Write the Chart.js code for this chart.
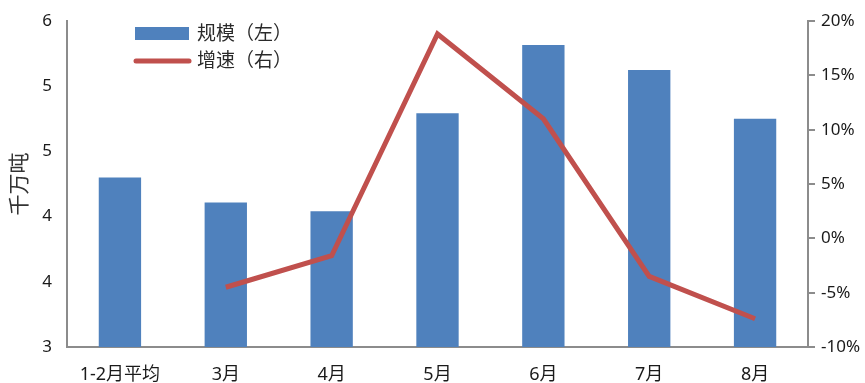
<!DOCTYPE html>
<html>
<head>
<meta charset="utf-8">
<script src="https://cdn.jsdelivr.net/npm/chart.js@4"></script>
<style>
  html, body { margin: 0; padding: 0; background: #fff; }
  #wrap { width: 865px; height: 383px; position: relative; }
</style>
</head>
<body>
<div id="wrap"><canvas id="chart"></canvas></div>
<script>
const categories = ['1-2月平均', '3月', '4月', '5月', '6月', '7月', '8月'];
const scaleValues = [4.56, 4.33, 4.25, 5.15, 5.78, 5.55, 5.10];   // 规模（左），千万吨
const growthValues = [null, -4.5, -1.6, 18.8, 11.0, -3.5, -7.4];  // 增速（右），%
const leftTicks = [3, 3.6, 4.2, 4.8, 5.4, 6];
const rightTicks = [-10, -5, 0, 5, 10, 15, 20];

const fontFamily = '"Noto Sans", "Noto Sans CJK SC", sans-serif';
const axisColor = '#8c8c8c';
const textColor = '#1a1a1a';

// legend + axis title drawn by hand (vertical legend inside the plot)
const extras = {
  id: 'extras',
  afterDraw(chart) {
    const ctx = chart.ctx;
    const area = chart.chartArea;
    ctx.save();
    ctx.fillStyle = '#4F81BD';
    ctx.fillRect(135, 27, 54, 13);
    ctx.strokeStyle = '#C0504D';
    ctx.lineWidth = 5;
    ctx.lineCap = 'round';
    ctx.beginPath();
    ctx.moveTo(136, 61);
    ctx.lineTo(189, 61);
    ctx.stroke();
    ctx.fillStyle = '#2a2a2a';
    ctx.font = '19px ' + fontFamily;
    ctx.textBaseline = 'middle';
    ctx.textAlign = 'left';
    ctx.fillText('规模（左）', 197, 35);
    ctx.fillText('增速（右）', 197, 62);
    ctx.translate(20, (area.top + area.bottom) / 2);
    ctx.rotate(-Math.PI / 2);
    ctx.textAlign = 'center';
    ctx.font = '21px ' + fontFamily;
    ctx.fillStyle = '#333';
    ctx.fillText('千万吨', 0, 0);
    ctx.restore();
  }
};

new Chart(document.getElementById('chart'), {
  data: {
    labels: categories,
    datasets: [
      {
        type: 'line',
        label: '增速（右）',
        data: growthValues,
        yAxisID: 'yRight',
        borderColor: '#C0504D',
        borderWidth: 5,
        pointRadius: 0,
        tension: 0,
        spanGaps: false,
        order: 0
      },
      {
        type: 'bar',
        label: '规模（左）',
        data: scaleValues,
        yAxisID: 'yLeft',
        backgroundColor: '#4F81BD',
        barPercentage: 0.4,
        categoryPercentage: 1,
        order: 1
      }
    ]
  },
  options: {
    responsive: true,
    maintainAspectRatio: false,
    animation: false,
    layout: { padding: { top: 21, left: 0, right: 0, bottom: 0 } },
    plugins: {
      legend: { display: false },
      tooltip: { enabled: false }
    },
    scales: {
      x: {
        grid: { display: false, drawTicks: false },
        border: { display: true, color: axisColor, width: 2 },
        ticks: { color: textColor, font: { family: fontFamily, size: 18 }, padding: 17, maxRotation: 0 },
        afterFit(scale) { scale.height = 36; }
      },
      yLeft: {
        position: 'left',
        min: 3,
        max: 6,
        afterBuildTicks(scale) { scale.ticks = leftTicks.map(v => ({ value: v })); },
        grid: { display: false, drawTicks: false },
        border: { display: true, color: axisColor, width: 2 },
        ticks: {
          color: textColor,
          font: { family: fontFamily, size: 17 },
          padding: 15,
          callback: v => Math.round(v)
        },
        afterFit(scale) {
          scale.width = 67;
          scale.paddingTop = 0;
          scale.paddingBottom = 0;
        }
      },
      yRight: {
        position: 'right',
        min: -10,
        max: 20,
        afterBuildTicks(scale) { scale.ticks = rightTicks.map(v => ({ value: v })); },
        grid: { drawOnChartArea: false, drawTicks: true, tickLength: 7, color: axisColor, lineWidth: 2 },
        border: { display: true, color: axisColor, width: 2 },
        ticks: {
          color: textColor,
          font: { family: fontFamily, size: 17 },
          padding: 6,
          callback: v => v + '%'
        },
        afterFit(scale) {
          scale.width = 57;
          scale.paddingTop = 0;
          scale.paddingBottom = 0;
        }
      }
    }
  },
  plugins: [extras]
});
</script>
</body>
</html>
